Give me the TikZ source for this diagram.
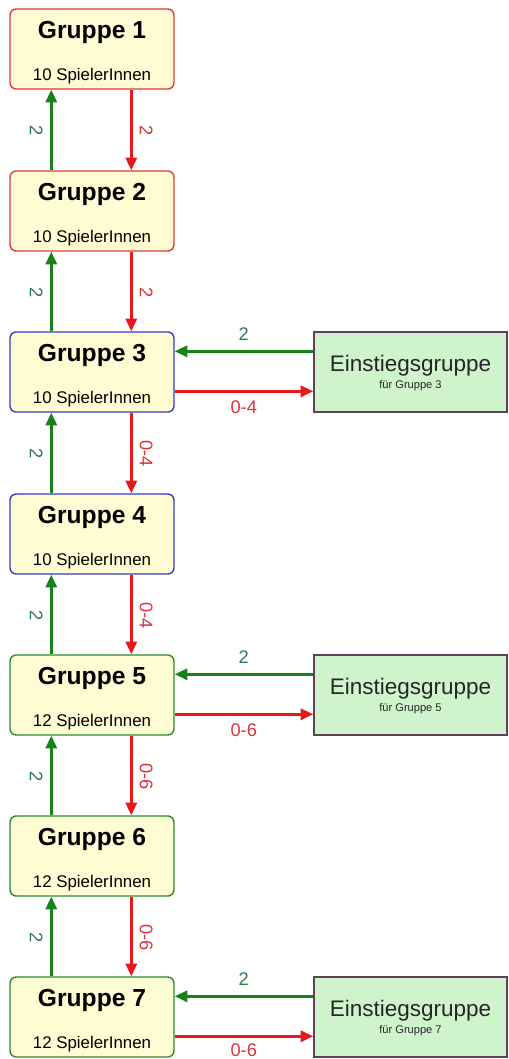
\documentclass[tikz,border=0pt]{standalone}
\usepackage{fontspec}
\setmainfont{Liberation Sans}
\usetikzlibrary{calc,arrows.meta}

\definecolor{boxgelb}{HTML}{FFFBD2}
\definecolor{randrot}{HTML}{E03A3A}
\definecolor{randblau}{HTML}{3A3AC8}
\definecolor{randgruen}{HTML}{2E8A2E}
\definecolor{einfill}{HTML}{CFF3CB}
\definecolor{einrand}{HTML}{5C405C}
\definecolor{pfgruen}{HTML}{17821A}
\definecolor{pfrot}{HTML}{E8191C}
\definecolor{txgruen}{HTML}{2F7A4A}
\definecolor{txrot}{HTML}{D8343A}

\tikzset{
	gruppe/.style={draw, line width=1pt, rounded corners=4.5pt, fill=boxgelb, minimum width=4.1cm, minimum height=2cm, inner sep=0pt},
	einstieg/.style={draw=einrand, line width=1pt, fill=einfill, minimum width=4.825cm, minimum height=2cm, inner sep=0pt},
	titel/.style={font=\bfseries\fontsize{17.5}{20}\selectfont, inner sep=0pt},
	anzahl/.style={font=\fontsize{12}{14}\selectfont, inner sep=0pt},
	eintitel/.style={font=\fontsize{16}{18}\selectfont, text=black!85, inner sep=0pt},
	einsub/.style={font=\fontsize{7.9}{9}\selectfont, text=black!85, inner sep=0pt},
	hoch/.style={draw=pfgruen, line width=1.8pt, -{Triangle[length=9pt,width=8pt]}},
	runter/.style={draw=pfrot, line width=1.8pt, -{Triangle[length=9pt,width=8pt]}},
	zgruen/.style={text=txgruen, font=\fontsize{13}{15}\selectfont, inner sep=0pt},
	zrot/.style={text=txrot, font=\fontsize{13}{15}\selectfont, inner sep=0pt}
}

\begin{document}
\begin{tikzpicture}[x=0.025cm, y=-0.025cm]
		%%%%% START %%%%%
		\useasboundingbox[fill=white] (0, 0) rectangle (508, 1059);
		
		% Gruppen
		\node[gruppe, draw=randrot] (g1) at (92, 49) {};
		\node[titel] (t1) at ($(g1.north)+(0, 24)$) {Gruppe 1};
		\node[anzahl] (s1) at ($(g1.north)+(0, 68)$) {10 SpielerInnen};
		
		\node[gruppe, draw=randrot] (g2) at (92, 211) {};
		\node[titel] (t2) at ($(g2.north)+(0, 24)$) {Gruppe 2};
		\node[anzahl] (s2) at ($(g2.north)+(0, 68)$) {10 SpielerInnen};
		
		\node[gruppe, draw=randblau] (g3) at (92, 372) {};
		\node[titel] (t3) at ($(g3.north)+(0, 24)$) {Gruppe 3};
		\node[anzahl] (s3) at ($(g3.north)+(0, 68)$) {10 SpielerInnen};
		
		\node[gruppe, draw=randblau] (g4) at (92, 534) {};
		\node[titel] (t4) at ($(g4.north)+(0, 24)$) {Gruppe 4};
		\node[anzahl] (s4) at ($(g4.north)+(0, 68)$) {10 SpielerInnen};
		
		\node[gruppe, draw=randgruen] (g5) at (92, 695) {};
		\node[titel] (t5) at ($(g5.north)+(0, 24)$) {Gruppe 5};
		\node[anzahl] (s5) at ($(g5.north)+(0, 68)$) {12 SpielerInnen};
		
		\node[gruppe, draw=randgruen] (g6) at (92, 856) {};
		\node[titel] (t6) at ($(g6.north)+(0, 24)$) {Gruppe 6};
		\node[anzahl] (s6) at ($(g6.north)+(0, 68)$) {12 SpielerInnen};
		
		\node[gruppe, draw=randgruen] (g7) at (92, 1017) {};
		\node[titel] (t7) at ($(g7.north)+(0, 24)$) {Gruppe 7};
		\node[anzahl] (s7) at ($(g7.north)+(0, 68)$) {12 SpielerInnen};
		
		% Einstiegsgruppen
		\node[einstieg] (e3) at (410.5, 372) {};
		\node[eintitel] (et3) at ($(e3.north)+(0, 34)$) {Einstiegsgruppe};
		\node[einsub] (es3) at ($(e3.north)+(0, 54)$) {für Gruppe 3};
		
		\node[einstieg] (e5) at (410.5, 695) {};
		\node[eintitel] (et5) at ($(e5.north)+(0, 34)$) {Einstiegsgruppe};
		\node[einsub] (es5) at ($(e5.north)+(0, 54)$) {für Gruppe 5};
		
		\node[einstieg] (e7) at (410.5, 1017) {};
		\node[eintitel] (et7) at ($(e7.north)+(0, 34)$) {Einstiegsgruppe};
		\node[einsub] (es7) at ($(e7.north)+(0, 54)$) {für Gruppe 7};
		
		% Auf- und Abstieg
		\draw[hoch] ($(g2.north west)+(42, 0)$) -- ($(g1.south west)+(42, 0)$);
		\node[zgruen, rotate=-90] (l12) at ($(g1.south west)+(27, 41)$) {2};
		\draw[runter] ($(g1.south west)+(122, 0)$) -- ($(g2.north west)+(122, 0)$);
		\node[zrot, rotate=-90] (l21) at ($(g1.south west)+(137, 41)$) {2};
		
		\draw[hoch] ($(g3.north west)+(42, 0)$) -- ($(g2.south west)+(42, 0)$);
		\node[zgruen, rotate=-90] (l23) at ($(g2.south west)+(27, 41)$) {2};
		\draw[runter] ($(g2.south west)+(122, 0)$) -- ($(g3.north west)+(122, 0)$);
		\node[zrot, rotate=-90] (l32) at ($(g2.south west)+(137, 41)$) {2};
		
		\draw[hoch] ($(g4.north west)+(42, 0)$) -- ($(g3.south west)+(42, 0)$);
		\node[zgruen, rotate=-90] (l34) at ($(g3.south west)+(27, 41)$) {2};
		\draw[runter] ($(g3.south west)+(122, 0)$) -- ($(g4.north west)+(122, 0)$);
		\node[zrot, rotate=-90] (l43) at ($(g3.south west)+(137, 41)$) {0-4};
		
		\draw[hoch] ($(g5.north west)+(42, 0)$) -- ($(g4.south west)+(42, 0)$);
		\node[zgruen, rotate=-90] (l45) at ($(g4.south west)+(27, 41)$) {2};
		\draw[runter] ($(g4.south west)+(122, 0)$) -- ($(g5.north west)+(122, 0)$);
		\node[zrot, rotate=-90] (l54) at ($(g4.south west)+(137, 41)$) {0-4};
		
		\draw[hoch] ($(g6.north west)+(42, 0)$) -- ($(g5.south west)+(42, 0)$);
		\node[zgruen, rotate=-90] (l56) at ($(g5.south west)+(27, 41)$) {2};
		\draw[runter] ($(g5.south west)+(122, 0)$) -- ($(g6.north west)+(122, 0)$);
		\node[zrot, rotate=-90] (l65) at ($(g5.south west)+(137, 41)$) {0-6};
		
		\draw[hoch] ($(g7.north west)+(42, 0)$) -- ($(g6.south west)+(42, 0)$);
		\node[zgruen, rotate=-90] (l67) at ($(g6.south west)+(27, 41)$) {2};
		\draw[runter] ($(g6.south west)+(122, 0)$) -- ($(g7.north west)+(122, 0)$);
		\node[zrot, rotate=-90] (l76) at ($(g6.south west)+(137, 41)$) {0-6};
		
		% Einstieg und Ausstieg
		\draw[hoch] ($(e3.north west)+(0, 20)$) -- ($(g3.north east)+(0, 20)$);
		\node[zgruen] (h3) at ($(g3.north east)+(69, 3)$) {2};
		\draw[runter] ($(g3.north east)+(0, 60)$) -- ($(e3.north west)+(0, 60)$);
		\node[zrot] (r3) at ($(g3.north east)+(69, 76)$) {0-4};
		
		\draw[hoch] ($(e5.north west)+(0, 20)$) -- ($(g5.north east)+(0, 20)$);
		\node[zgruen] (h5) at ($(g5.north east)+(69, 3)$) {2};
		\draw[runter] ($(g5.north east)+(0, 60)$) -- ($(e5.north west)+(0, 60)$);
		\node[zrot] (r5) at ($(g5.north east)+(69, 76)$) {0-6};
		
		\draw[hoch] ($(e7.north west)+(0, 20)$) -- ($(g7.north east)+(0, 20)$);
		\node[zgruen] (h7) at ($(g7.north east)+(69, 3)$) {2};
		\draw[runter] ($(g7.north east)+(0, 60)$) -- ($(e7.north west)+(0, 60)$);
		\node[zrot] (r7) at ($(g7.north east)+(69, 74)$) {0-6};
		
		%%%%% END %%%%%
	\end{tikzpicture}
\end{document}
